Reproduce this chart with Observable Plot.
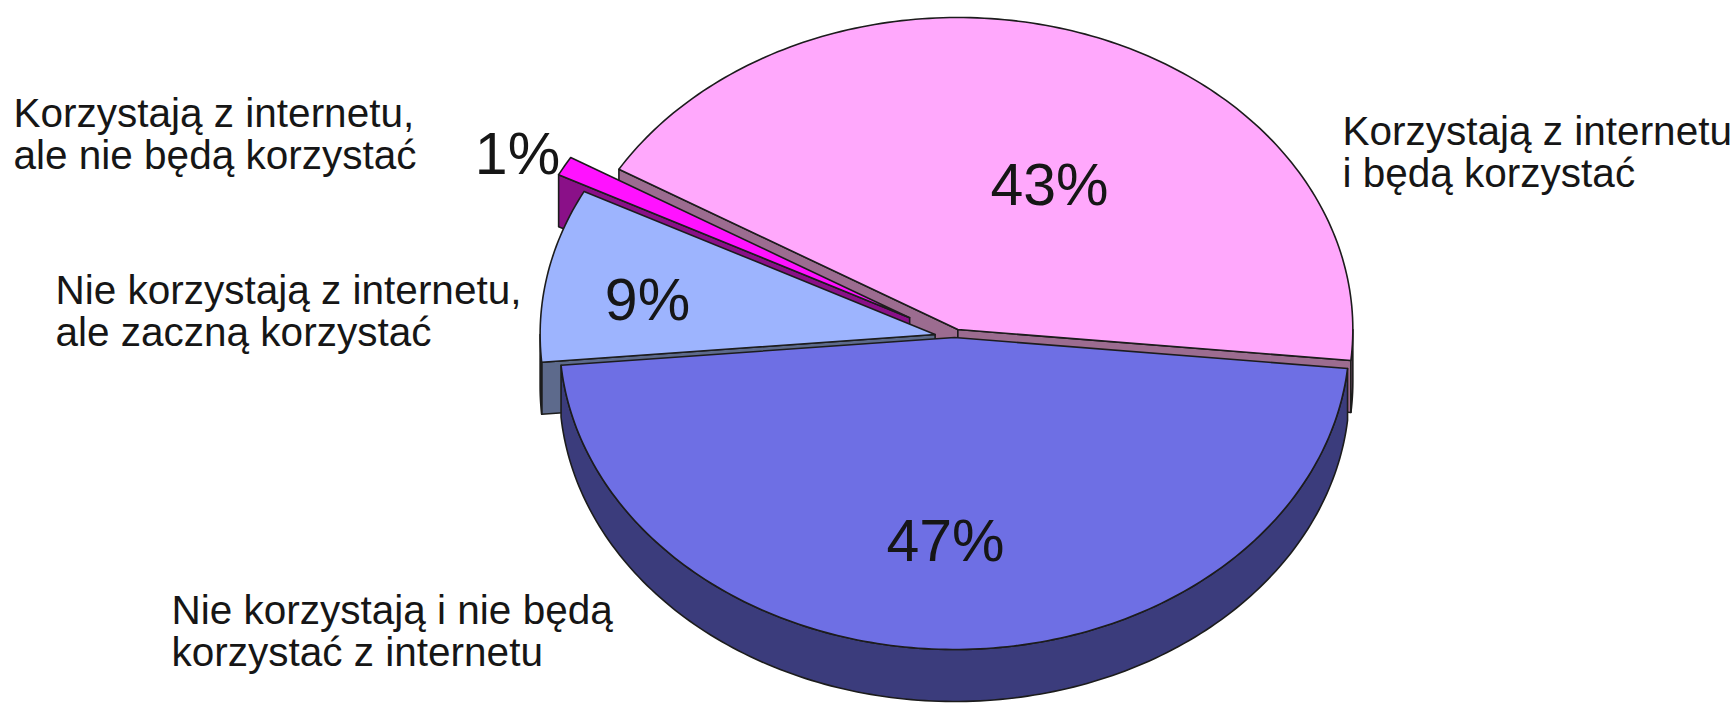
<!DOCTYPE html>
<html><head><meta charset="utf-8">
<script src="https://cdn.jsdelivr.net/npm/d3@7"></script>
<script src="https://cdn.jsdelivr.net/npm/@observablehq/plot@0.6"></script>
<style>body{margin:0;background:#fff}</style>
</head><body><div id="chart"></div>
<script>
// ---- data ----
const categories = [
  "Nie korzystają i nie będą\nkorzystać z internetu",
  "Nie korzystają z internetu,\nale zaczną korzystać",
  "Korzystają z internetu,\nale nie będą korzystać",
  "Korzystają z internetu\ni będą korzystać"
];
const values = [47, 9, 1, 43];
const percentLabels = ["47%", "9%", "1%", "43%"];

// ---- styles ----
const topColors  = ["#6e6fe4", "#9db4fe", "#ff12ff", "#ffa8fc"];
const sideColors = ["#3b3c7c", "#5d6a8c", "#8a1088", "#9c6c90"];

// ---- layout ----
const W = 1735, H = 712;
const pie = {cx: 954, cy: 337, rx: 395, ry: 312, depth: 52, start: 5.7};
const explode = [0, 0.05, 0.13, 0.027];
const catPos = [[171, 631], [55, 311], [13, 134], [1342, 152]];
const pctPos = [[945, 542], [647, 301], [517, 155], [1049, 186]];

const rad = Math.PI / 180;
const total = d3.sum(values);
let acc = pie.start;
const slices = values.map((v, i) => {
  const s = acc, e = acc + v / total * 360; acc = e;
  const m = (s + e) / 2;
  return {i, s, e,
    cx: pie.cx + explode[i] * pie.rx * Math.cos(m * rad),
    cy: pie.cy + explode[i] * pie.ry * Math.sin(m * rad)};
});
const pt = (sl, a, dz = 0) => ({x: sl.cx + pie.rx * Math.cos(a * rad), y: sl.cy + pie.ry * Math.sin(a * rad) + dz});
const arc = (sl, a0, a1, dz = 0) => {
  const n = Math.max(2, Math.ceil(Math.abs(a1 - a0)));
  return d3.range(n + 1).map(k => pt(sl, a0 + (a1 - a0) * k / n, dz));
};

const rows = [];
let pid = 0;
const addPoly = (pts, fill) => { const id = pid++; pts.forEach(p => rows.push({id, x: p.x, y: p.y, fill})); };

// radial walls (visible ones), painted back to front
const walls = [];
slices.forEach(sl => {
  if (Math.cos(sl.s * rad) < 0) walls.push({sl, a: sl.s});
  if (Math.cos(sl.e * rad) > 0) walls.push({sl, a: sl.e});
});
walls.sort((p, q) => Math.sin(p.a * rad) - Math.sin(q.a * rad));
walls.forEach(({sl, a}) => {
  const apex = {x: sl.cx, y: sl.cy}, apexB = {x: sl.cx, y: sl.cy + pie.depth};
  addPoly([apex, pt(sl, a), pt(sl, a, pie.depth), apexB], sideColors[sl.i]);
});
// outer walls (front half only)
slices.forEach(sl => {
  [0, 360].forEach(k => {
    const lo = Math.max(sl.s, k), hi = Math.min(sl.e, k + 180);
    if (hi > lo) addPoly([...arc(sl, lo, hi), ...arc(sl, hi, lo, pie.depth)], sideColors[sl.i]);
  });
});
// top faces
slices.forEach(sl => addPoly([{x: sl.cx, y: sl.cy}, ...arc(sl, sl.s, sl.e)], topColors[sl.i]));

const catRows = categories.map((c, i) => ({text: c, x: catPos[i][0], y: catPos[i][1]}));
const pctRows = percentLabels.map((t, i) => ({text: t, x: pctPos[i][0], y: pctPos[i][1]}));

const chart = Plot.plot({
  width: W, height: H,
  margin: 0,
  style: {fontFamily: "'Liberation Sans', Arial, sans-serif", background: "#fff"},
  x: {domain: [0, W], range: [0, W], axis: null},
  y: {domain: [0, H], range: [0, H], axis: null},
  color: {type: "identity"},
  marks: [
    Plot.line(rows, {x: "x", y: "y", z: "id", fill: "fill", stroke: "#1c1c1c", strokeWidth: 1.6, curve: "linear-closed", strokeLinejoin: "round"}),
    Plot.text(catRows, {x: "x", y: "y", text: "text", textAnchor: "start", lineAnchor: "middle", fontSize: 40.5, lineHeight: 1.04, fill: "#161616"}),
    Plot.text(pctRows, {x: "x", y: "y", text: "text", textAnchor: "middle", lineAnchor: "middle", fontSize: 59, fill: "#161616"})
  ]
});
document.getElementById("chart").appendChild(chart);
</script>
</body></html>
